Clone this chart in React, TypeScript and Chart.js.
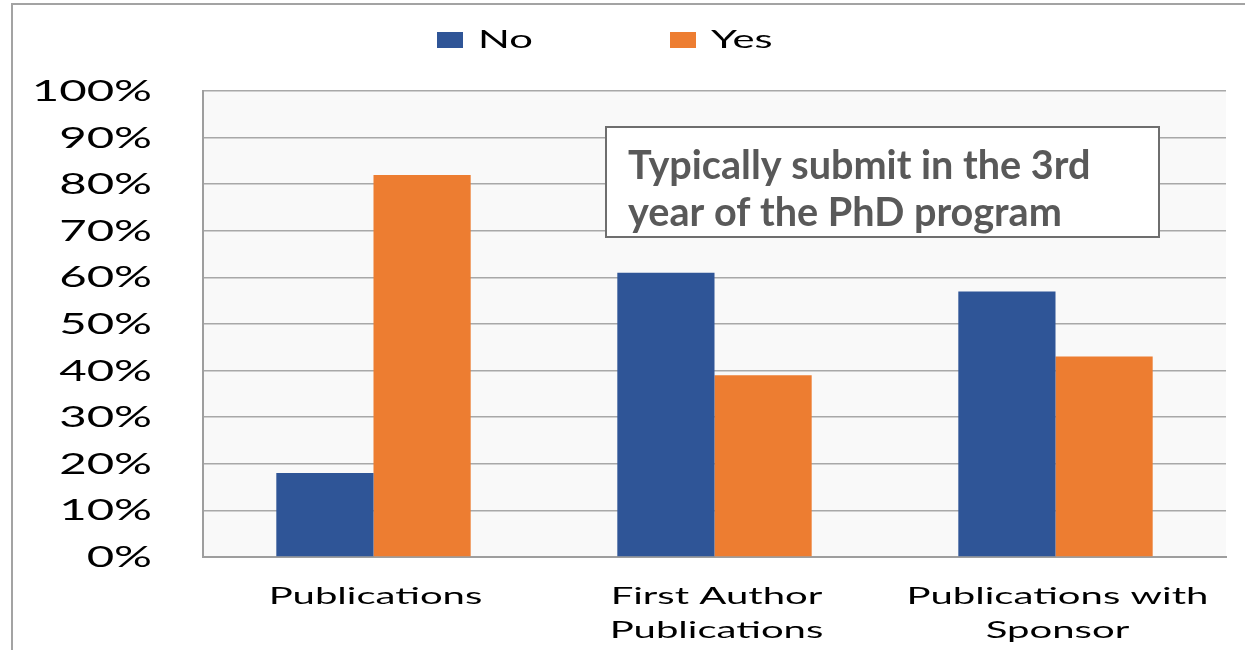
import React, { useEffect, useRef } from 'react';
import { Chart, registerables } from 'chart.js';

Chart.register(...registerables);

const categories: string[][] = [
  ['Publications'],
  ['First Author', 'Publications'],
  ['Publications with', 'Sponsor'],
];
const seriesNames = ['No', 'Yes'];
const seriesColors = ['#2f5597', '#ed7d31'];
const noValues = [18, 61, 57];
const yesValues = [82, 39, 43];
const yMin = 0;
const yMax = 100;
const yStep = 10;
const annotationLines = ['Typically submit in the 3rd', 'year of the PhD program'];

const FONT = 'Lato, "DejaVu Sans", sans-serif';
const SX = 1.67;

function drawText(
  ctx: CanvasRenderingContext2D,
  text: string,
  x: number,
  y: number,
  size: number,
  weight: string,
  color: string,
  sx: number,
  align: 'left' | 'center' | 'right'
) {
  ctx.save();
  ctx.font = `${weight} ${size}px ${FONT}`;
  ctx.fillStyle = color;
  ctx.textBaseline = 'alphabetic';
  ctx.textAlign = 'left';
  const w = ctx.measureText(text).width * sx;
  let left = x;
  if (align === 'center') left = x - w / 2;
  else if (align === 'right') left = x - w;
  ctx.translate(left, y);
  ctx.scale(sx, 1);
  ctx.fillText(text, 0, 0);
  ctx.restore();
}

const decorPlugin = {
  id: 'decor',
  beforeDraw(chart: any) {
    const { ctx, chartArea } = chart;
    ctx.save();
    ctx.fillStyle = '#ffffff';
    ctx.fillRect(0, 0, chart.width, chart.height);
    // outer frame
    ctx.strokeStyle = '#a3a3a3';
    ctx.lineWidth = 2;
    ctx.beginPath();
    ctx.moveTo(12, chart.height);
    ctx.lineTo(12, 4);
    ctx.lineTo(chart.width, 4);
    ctx.stroke();
    // plot background
    ctx.fillStyle = '#f9f9f9';
    ctx.fillRect(chartArea.left, chartArea.top, chartArea.right - chartArea.left, chartArea.bottom - chartArea.top);
    ctx.restore();
  },
  afterDraw(chart: any) {
    const { ctx } = chart;
    const yScale = chart.scales.y;
    const xScale = chart.scales.x;
    // y tick labels
    yScale.ticks.forEach((t: any) => {
      const y = yScale.getPixelForValue(t.value);
      drawText(ctx, `${t.value}%`, 152, y + 10, 28, '400', '#000000', 1.69, 'right');
    });
    // x category labels
    categories.forEach((lines, i) => {
      const cx = xScale.getPixelForValue(i);
      lines.forEach((line, j) => {
        drawText(ctx, line, cx + 2, 604 + j * 34, 24, '400', '#000000', SX, 'center');
      });
    });
    // legend
    const legendX = [437, 670];
    chart.data.datasets.forEach((ds: any, i: number) => {
      ctx.save();
      ctx.fillStyle = ds.backgroundColor;
      ctx.fillRect(legendX[i], 32, 26, 16);
      ctx.restore();
      drawText(ctx, ds.label, legendX[i] + 41, 48, 25, '400', '#000000', SX, 'left');
    });
    // annotation box
    ctx.save();
    ctx.fillStyle = '#ffffff';
    ctx.fillRect(606, 127, 553, 110);
    ctx.strokeStyle = '#6e6e6e';
    ctx.lineWidth = 2;
    ctx.strokeRect(606, 127, 553, 110);
    ctx.restore();
    annotationLines.forEach((line, j) => {
      drawText(ctx, line, 628, 179 + j * 47, 40, '700', '#595959', 0.99, 'left');
    });
  },
};

export default function App() {
  const canvasRef = useRef<HTMLCanvasElement | null>(null);

  useEffect(() => {
    if (!canvasRef.current) return;
    const chart = new Chart(canvasRef.current, {
      type: 'bar',
      data: {
        labels: categories.map((c) => c.join(' ')),
        datasets: [
          {
            label: seriesNames[0],
            data: noValues,
            backgroundColor: seriesColors[0],
            categoryPercentage: 0.57,
            barPercentage: 1.0,
          },
          {
            label: seriesNames[1],
            data: yesValues,
            backgroundColor: seriesColors[1],
            categoryPercentage: 0.57,
            barPercentage: 1.0,
          },
        ],
      },
      options: {
        animation: false,
        responsive: false,
        devicePixelRatio: 1,
        layout: { padding: { left: 203, top: 91, right: 19, bottom: 93 } },
        plugins: {
          legend: { display: false },
          tooltip: { enabled: false },
          title: { display: false },
        },
        scales: {
          x: {
            grid: { display: false, drawTicks: false },
            border: { display: true, color: '#9e9e9e', width: 2 },
            ticks: { display: false },
          },
          y: {
            min: yMin,
            max: yMax,
            ticks: { display: false, stepSize: yStep },
            grid: { color: '#a8a8a8', lineWidth: 1.5, drawTicks: false },
            border: { display: true, color: '#9e9e9e', width: 2 },
          },
        },
      },
      plugins: [decorPlugin],
    });
    return () => chart.destroy();
  }, []);

  return (
    <div style={{ position: 'fixed', left: 0, top: 0, width: 1245, height: 650, background: '#fff' }}>
      <canvas ref={canvasRef} width={1245} height={650} />
    </div>
  );
}
